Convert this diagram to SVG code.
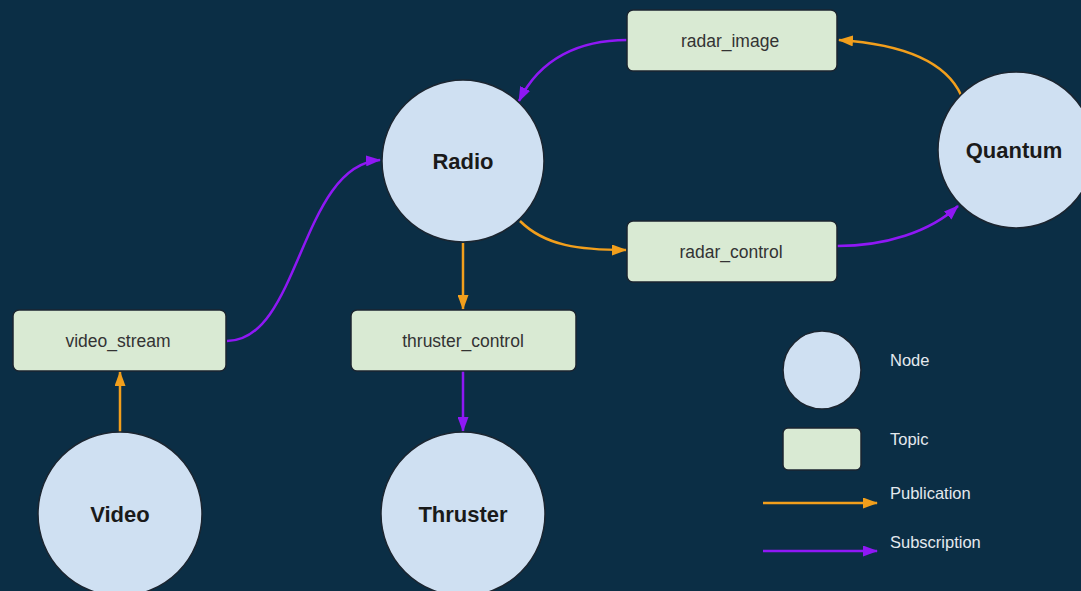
<svg xmlns="http://www.w3.org/2000/svg" width="1081" height="591" viewBox="0 0 1081 591">
  <defs>
    <marker id="arrow-pub" viewBox="0 0 15 11" refX="14" refY="5.5" markerWidth="15" markerHeight="11" markerUnits="userSpaceOnUse" orient="auto">
      <path d="M0,0 L15,5.5 L0,11 Z" fill="#f29f1c"/>
    </marker>
    <marker id="arrow-sub" viewBox="0 0 15 11" refX="14" refY="5.5" markerWidth="15" markerHeight="11" markerUnits="userSpaceOnUse" orient="auto">
      <path d="M0,0 L15,5.5 L0,11 Z" fill="#8f18f5"/>
    </marker>
  </defs>
  <style>
    .node { fill: #cfe0f2; stroke: #1b2530; stroke-width: 1.5; }
    .topic { fill: #d9ead3; stroke: #1b2530; stroke-width: 1.5; }
    .node-label { font-family: "Liberation Sans", Arial, sans-serif; font-size: 22px; font-weight: bold; fill: #1a1a1a; text-anchor: middle; }
    .topic-label { font-family: "Liberation Sans", Arial, sans-serif; font-size: 17.5px; fill: #333333; text-anchor: middle; }
    .legend-label { font-family: "Liberation Sans", Arial, sans-serif; font-size: 16.5px; fill: #e4e9ee; }
    .pub { fill: none; stroke: #f29f1c; stroke-width: 2.5; marker-end: url(#arrow-pub); }
    .sub { fill: none; stroke: #8f18f5; stroke-width: 2.5; marker-end: url(#arrow-sub); }
  </style>

  <rect width="1081" height="591" fill="#0b2e45"/>

  <!-- connectors -->
  <g id="connectors">
    <path class="pub" d="M520,221 C545,246 580,250 626,250"/>
    <path class="sub" d="M837,246 C885,246 930,232 958,206"/>
    <path class="pub" d="M961,95 C945,60 900,44 839,40"/>
    <path class="sub" d="M627,40 C580,40 540,58 519,101"/>
    <path class="sub" d="M227,341 C300,341 300,165 380,160"/>
    <path class="pub" d="M463,243 L463,309"/>
    <path class="sub" d="M463,371 L463,431"/>
    <path class="pub" d="M120,432 L120,372"/>
  </g>

  <!-- nodes -->
  <g id="node-radio">
    <circle class="node" cx="463" cy="161" r="81"/>
    <text class="node-label" x="463" y="169">Radio</text>
  </g>
  <g id="node-quantum">
    <circle class="node" cx="1016" cy="150" r="78"/>
    <text class="node-label" x="1014" y="158">Quantum</text>
  </g>
  <g id="node-video">
    <circle class="node" cx="120" cy="514" r="82"/>
    <text class="node-label" x="120" y="522">Video</text>
  </g>
  <g id="node-thruster">
    <circle class="node" cx="463" cy="514" r="82"/>
    <text class="node-label" x="463" y="522">Thruster</text>
  </g>

  <!-- topics -->
  <g id="topic-radar-image">
    <rect class="topic" x="627" y="10" width="210" height="61" rx="6"/>
    <text class="topic-label" x="730" y="47">radar_image</text>
  </g>
  <g id="topic-radar-control">
    <rect class="topic" x="627" y="221" width="210" height="61" rx="6"/>
    <text class="topic-label" x="731" y="258">radar_control</text>
  </g>
  <g id="topic-video-stream">
    <rect class="topic" x="13" y="310" width="213" height="61" rx="6"/>
    <text class="topic-label" x="118" y="347">video_stream</text>
  </g>
  <g id="topic-thruster-control">
    <rect class="topic" x="351" y="310" width="225" height="61" rx="6"/>
    <text class="topic-label" x="463" y="347">thruster_control</text>
  </g>

  <!-- legend -->
  <g id="legend">
    <circle class="node" cx="822" cy="370" r="39"/>
    <text class="legend-label" x="890" y="366">Node</text>
    <rect class="topic" x="783" y="428" width="78" height="42" rx="5"/>
    <text class="legend-label" x="890" y="445">Topic</text>
    <path class="pub" d="M763,503 L877,503"/>
    <text class="legend-label" x="890" y="499">Publication</text>
    <path class="sub" d="M763,551 L877,551"/>
    <text class="legend-label" x="890" y="548">Subscription</text>
  </g>
</svg>
